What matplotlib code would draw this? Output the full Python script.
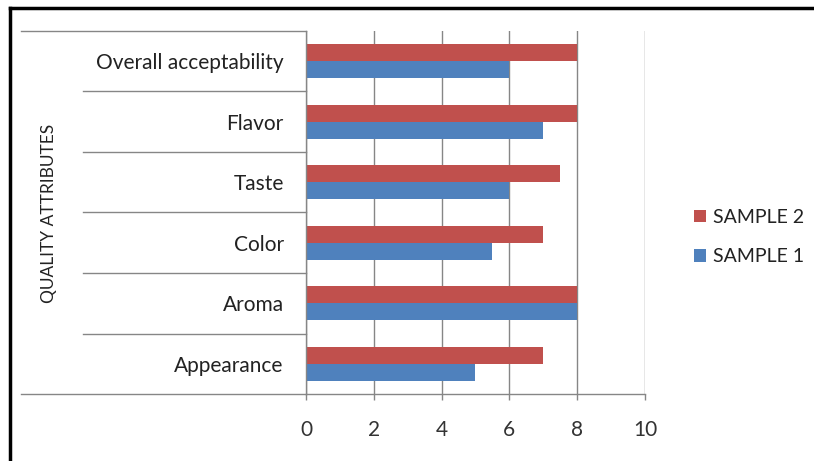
import numpy as np
import matplotlib
matplotlib.use("Agg")
from matplotlib import pyplot as plt
from matplotlib.lines import Line2D

# data, bottom to top as drawn
categories = ["Appearance", "Aroma", "Color", "Taste", "Flavor", "Overall acceptability"]
sample1 = [5, 8, 5.5, 6, 7, 6]
sample2 = [7, 8, 7, 7.5, 8, 8]
xticks = [0, 2, 4, 6, 8, 10]

plt.rcParams['font.family'] = ['Lato', 'DejaVu Sans']
grey = '#868686'
fs = 15

fig = plt.figure(figsize=(8.14, 4.61), dpi=100)
W, H = 814, 461
ax = fig.add_axes([306/W, 1 - 394/H, (645-306)/W, (394-31)/H])

y = np.arange(len(categories))
h = 0.28
ax.barh(y - h/2, sample1, height=h, color='#4F81BD', label='SAMPLE 1')
ax.barh(y + h/2, sample2, height=h, color='#C0504D', label='SAMPLE 2')

ax.set_xlim(0, 10)
ax.set_ylim(-0.5, len(categories) - 0.5)
ax.set_xticks(xticks)
ax.set_xticklabels([str(t) for t in xticks], fontsize=fs, color='#333333')
ax.set_yticks(y)
ax.set_yticklabels(categories, fontsize=fs, color='#222222')
ax.tick_params(axis='y', length=0, pad=16)
ax.tick_params(axis='x', length=4.5, width=1, color=grey, pad=14)
ax.xaxis.grid(True, color=grey, linewidth=1)
ax.set_axisbelow(True)
for s in ['top', 'right']:
    ax.spines[s].set_visible(False)
for s in ['left', 'bottom']:
    ax.spines[s].set_color(grey)
    ax.spines[s].set_linewidth(1)

# category separators to the left of the axis
tr = ax.get_yaxis_transform()
bounds = np.arange(len(categories) + 1) - 0.5
for i, b in enumerate(bounds):
    x0 = (21 - 306) / 339 if i in (0, len(bounds) - 1) else (83 - 306) / 339
    ax.plot([x0, 0], [b, b], transform=tr, color=grey, lw=1, clip_on=False)

fig.text(49/W, 1 - 213/H, 'QUALITY ATTRIBUTES', rotation=90, ha='center', va='center',
         fontsize=12.5, color='#222222')

handles, labels = ax.get_legend_handles_labels()
leg = fig.legend(handles[::-1], labels[::-1], loc='center left',
                 bbox_to_anchor=(676/W, 1 - 237/H), frameon=False, fontsize=14,
                 handlelength=0.65, handleheight=0.65, handletextpad=0.35, labelspacing=1.15)
for t in leg.get_texts():
    t.set_color('#222222')

# outer frame (top and left edges visible)
fig.add_artist(Line2D([10/W, 1], [1 - 8/H, 1 - 8/H], transform=fig.transFigure, color='black', lw=2.5))
fig.add_artist(Line2D([10/W, 10/W], [0, 1 - 8/H], transform=fig.transFigure, color='black', lw=2.5))

fig.savefig('out.png', dpi=100)
